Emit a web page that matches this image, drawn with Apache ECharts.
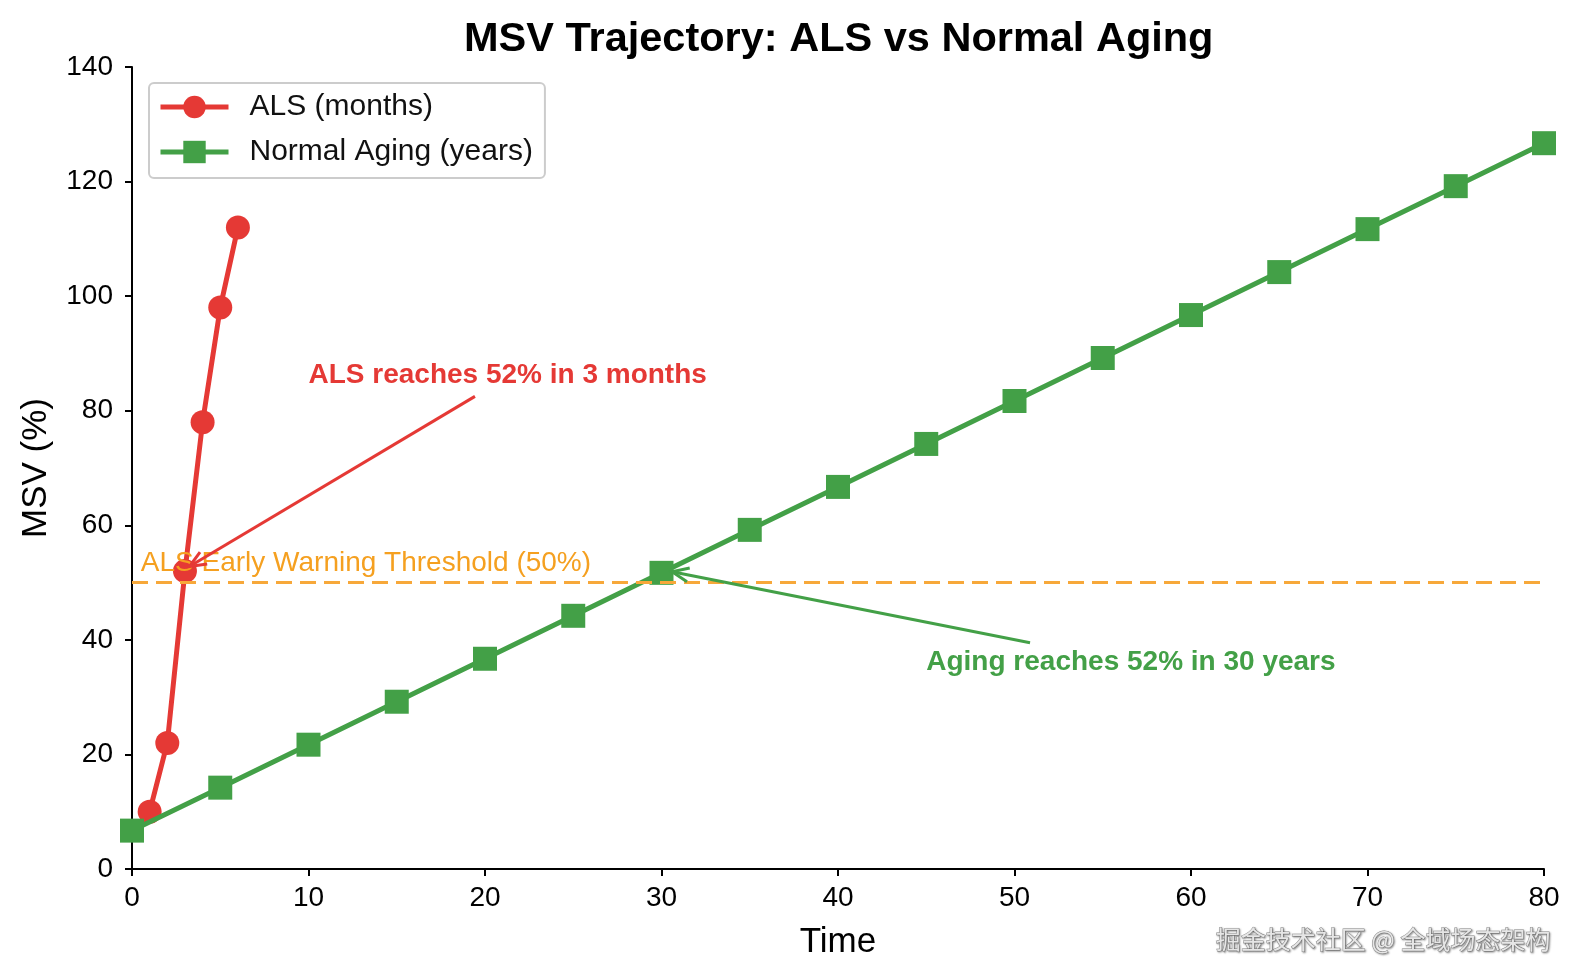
<html>
<head>
<meta charset="utf-8" />
<title>MSV Trajectory</title>
<script src="https://cdn.jsdelivr.net/npm/echarts@6/dist/echarts.min.js"></script>
<style type="text/css">
html, body { margin: 0; padding: 0; background: #fff; }
#chart { width: 1579px; height: 980px; }
</style>
</head>
<body>
<div id="chart"></div>
<script type="text/javascript">
var chart = echarts.init(document.getElementById('chart'));

// ALS progression (x = months)
var alsTime = [1, 2, 3, 4, 5, 6];
var alsMsv = [10, 22, 52, 78, 98, 112];

// normal aging (x = years)
var agingTime = [0, 5, 10, 15, 20, 25, 30, 35, 40, 45, 50, 55, 60, 65, 70, 75, 80];
var agingMsv = [6.7, 14.2, 21.7, 29.2, 36.7, 44.2, 51.7, 59.2, 66.7, 74.2, 81.7, 89.2, 96.7, 104.2, 111.7, 119.2, 126.7];

var threshold = 50;
var xTicks = { min: 0, max: 80, step: 10 };
var yTicks = { min: 0, max: 140, step: 20 };

// annotation text anchors and arrows [fromX, fromY, toX, toY]
var alsNote = { text: 'ALS reaches 52% in 3 months', at: [10, 86.2] };
var agingNote = { text: 'Aging reaches 52% in 30 years', at: [45, 36.1] };
var alsArrow = [19.43, 82.5, 3.25, 52.8];
var agingArrow = [50.88, 39.5, 30.6, 51.9];
var thresholdNote = { text: 'ALS Early Warning Threshold (50%)', at: [0.5, 53.4] };

var RED = '#e53935';
var GREEN = '#43a047';
var ORANGE = '#f7a83a';
var FONT = '"Liberation Sans", Arial, sans-serif';

function zip(xs, ys) {
    return xs.map(function (x, i) { return [x, ys[i]]; });
}

function note(n, color, bold) {
    return {
        coord: n.at,
        symbol: 'circle',
        symbolSize: 0,
        label: {
            show: true,
            position: [0, 0],
            align: 'left',
            verticalAlign: 'middle',
            formatter: n.text,
            color: color,
            fontSize: 28,
            fontWeight: bold ? 'bold' : 'normal',
            fontFamily: FONT
        }
    };
}

// annotate-style arrow: straight shaft with an open head at the target
function arrowSeries(a, color) {
    return {
        type: 'custom',
        silent: true,
        z: 10,
        data: [a],
        encode: { x: [0, 2], y: [1, 3] },
        renderItem: function (params, api) {
            var p1 = api.coord([api.value(0), api.value(1)]);
            var p2 = api.coord([api.value(2), api.value(3)]);
            var ang = Math.atan2(p1[1] - p2[1], p1[0] - p2[0]);
            var len = 18, spread = 0.4;
            var h1 = [p2[0] + len * Math.cos(ang + spread), p2[1] + len * Math.sin(ang + spread)];
            var h2 = [p2[0] + len * Math.cos(ang - spread), p2[1] + len * Math.sin(ang - spread)];
            var st = { stroke: color, lineWidth: 3, fill: null };
            return {
                type: 'group',
                children: [
                    { type: 'line', shape: { x1: p1[0], y1: p1[1], x2: p2[0], y2: p2[1] }, style: st },
                    { type: 'polyline', shape: { points: [h1, p2, h2] }, style: st }
                ]
            };
        }
    };
}

var option = {
    backgroundColor: '#fff',
    animation: false,
    title: {
        text: 'MSV Trajectory: ALS vs Normal Aging',
        left: 459,
        top: 14,
        textStyle: { fontSize: 41.5, fontWeight: 'bold', color: '#000', fontFamily: FONT }
    },
    legend: {
        data: ['ALS (months)', 'Normal Aging (years)'],
        orient: 'vertical',
        left: 149,
        top: 83,
        itemWidth: 68,
        itemHeight: 28,
        itemGap: 15,
        padding: [9, 12, 11, 9],
        borderColor: '#cccccc',
        borderWidth: 2,
        borderRadius: 5,
        backgroundColor: '#fff',
        lineStyle: { width: 5 },
        textStyle: { fontSize: 30, color: '#111', fontFamily: FONT, padding: [0, 0, 0, 16] }
    },
    grid: { left: 132, right: 35, top: 67, bottom: 111 },
    xAxis: {
        type: 'value',
        min: xTicks.min,
        max: xTicks.max,
        interval: xTicks.step,
        name: 'Time',
        nameLocation: 'middle',
        nameGap: 56,
        nameTextStyle: { fontSize: 35, color: '#000', fontFamily: FONT },
        axisLine: { lineStyle: { color: '#000', width: 2 } },
        axisTick: { length: 7, lineStyle: { color: '#000', width: 2 } },
        axisLabel: { fontSize: 28, color: '#000', margin: 15, fontFamily: FONT },
        splitLine: { show: false }
    },
    yAxis: {
        type: 'value',
        min: yTicks.min,
        max: yTicks.max,
        interval: yTicks.step,
        name: 'MSV (%)',
        nameLocation: 'middle',
        nameGap: 78,
        nameTextStyle: { fontSize: 35, color: '#000', fontFamily: FONT },
        axisLine: { show: true, lineStyle: { color: '#000', width: 2 } },
        axisTick: { show: true, length: 7, lineStyle: { color: '#000', width: 2 } },
        axisLabel: { fontSize: 28, color: '#000', margin: 19, fontFamily: FONT },
        splitLine: { show: false }
    },
    graphic: [{
        type: 'text',
        right: 28,
        top: 926,
        style: {
            text: '掘金技术社区 @ 全域场态架构',
            fontSize: 25,
            fontFamily: '"Noto Sans CJK SC", sans-serif',
            fill: '#e6e6e6',
            stroke: '#8a8a8a',
            lineWidth: 1,
            textShadowColor: 'rgba(0,0,0,0.35)',
            textShadowBlur: 2,
            textShadowOffsetX: 1,
            textShadowOffsetY: 1
        }
    }],
    series: [{
        name: 'threshold',
        type: 'line',
        data: [],
        markLine: {
            silent: true,
            symbol: ['none', 'none'],
            label: { show: false },
            lineStyle: { color: ORANGE, width: 3, type: [16, 8] },
            data: [{ yAxis: threshold }]
        }
    }, {
        name: 'ALS (months)',
        type: 'line',
        data: zip(alsTime, alsMsv),
        symbol: 'circle',
        symbolSize: 24,
        color: RED,
        lineStyle: { width: 5, color: RED },
        itemStyle: { color: RED },
        z: 3,
        markPoint: {
            silent: true,
            data: [note(alsNote, RED, true), note(thresholdNote, '#f5a020', false)]
        }
    }, {
        name: 'Normal Aging (years)',
        type: 'line',
        data: zip(agingTime, agingMsv),
        symbol: 'rect',
        symbolSize: 24,
        color: GREEN,
        lineStyle: { width: 5, color: GREEN },
        itemStyle: { color: GREEN },
        z: 4,
        markPoint: {
            silent: true,
            data: [note(agingNote, GREEN, true)]
        }
    },
    arrowSeries(alsArrow, RED),
    arrowSeries(agingArrow, GREEN)
    ]
};

chart.setOption(option);
</script>
</body>
</html>
